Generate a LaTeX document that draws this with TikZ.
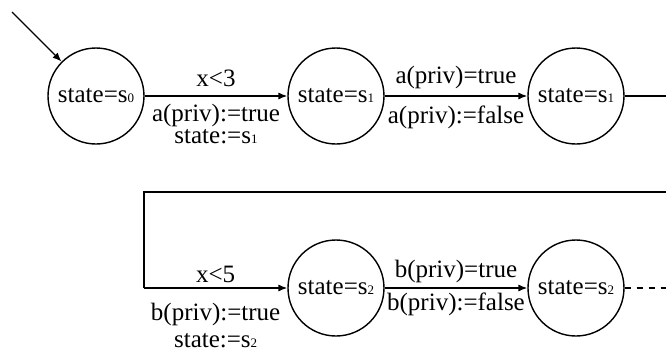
\documentclass[tikz,border=0pt]{standalone}
\usepackage{fontspec}
\setmainfont{Liberation Serif}
\usepackage{tikz}
\usetikzlibrary{arrows.meta,positioning,calc}
\newcommand\stsub[1]{{\fontsize{6.5}{6.5}\selectfont #1}}
\tikzset{
  stnode/.style={draw, circle, line width=0.7pt, minimum size=48pt, inner sep=0pt,
    font=\fontsize{12.5}{11}\selectfont},
  flow/.style={-{Latex[length=4.5pt, width=3.6pt]}, line width=0.7pt},
  plain/.style={line width=0.7pt},
  lbl/.style={font=\fontsize{12.5}{11}\selectfont, align=center, inner sep=0pt, anchor=base},
}
\begin{document}
\begin{tikzpicture}[x=0.5pt, y=-0.5pt]
  \useasboundingbox (0,0) rectangle (666,350);
  \clip (0,0) rectangle (666,350);
  % first row
  \node[stnode] (s0)  at (96,96)  {state=s\stsub{0}};
  \node[stnode] (s1a) at (336,96) {state=s\stsub{1}};
  \node[stnode] (s1b) at (576,96) {state=s\stsub{1}};
  % second row
  \node[stnode] (s2a) at (336,288) {state=s\stsub{2}};
  \node[stnode] (s2b) at (576,288) {state=s\stsub{2}};
  % bends of the loop
  \coordinate (init) at (12,12);
  \coordinate (r1) at (690,96);
  \coordinate (r2) at (690,192);
  \coordinate (l2) at (144,192);
  \coordinate (l3) at (144,288);
  \coordinate (dend) at (680,288);

  \draw[flow] (init) -- (s0);
  \draw[flow] (s0) -- node[lbl, yshift=5pt] {x<3}
    node[lbl, yshift=-23.5pt] {a(priv):=true\\state:=s\stsub{1}} (s1a);
  \draw[flow] (s1a) -- node[lbl, yshift=6.5pt] {a(priv)=true}
    node[lbl, yshift=-13.5pt] {a(priv):=false} (s1b);
  \draw[plain] (s1b) -- (r1) -- (r2) -- (l2) -- (l3);
  \draw[flow] (l3) -- node[lbl, yshift=3pt] {x<5}
    node[lbl, yshift=-29.5pt] {b(priv):=true\\[2.5pt]state:=s\stsub{2}} (s2a);
  \draw[flow] (s2a) -- node[lbl, yshift=5.5pt] {b(priv)=true}
    node[lbl, yshift=-11pt] {b(priv):=false} (s2b);
  \draw[plain, dashed] (s2b) -- (dend);
\end{tikzpicture}
\end{document}
